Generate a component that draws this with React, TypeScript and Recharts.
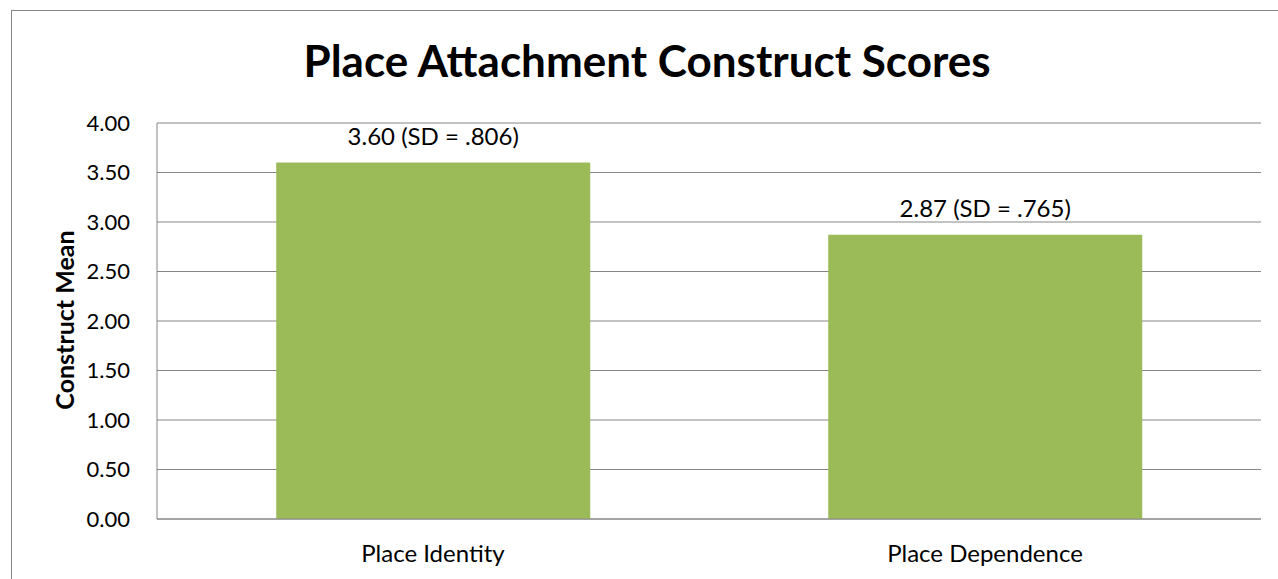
import React from 'react';
import { BarChart, Bar, XAxis, YAxis, CartesianGrid, LabelList } from 'recharts';

const categories = ['Place Identity', 'Place Dependence'];
const means = [3.6, 2.87];
const sds = ['.806', '.765'];
const yTicks = [0, 0.5, 1, 1.5, 2, 2.5, 3, 3.5, 4];

const data = categories.map((name, i) => ({ name, mean: means[i], sd: sds[i] }));

const FONT = 'Lato, "Open Sans", sans-serif';
const GRID = '#868686';

const BarLabel = (props: any) => {
  const { x, y, width, index } = props;
  return (
    <text
      x={x + width / 2}
      y={y - 18}
      textAnchor="middle"
      fontFamily={FONT}
      fontSize={24}
      fill="#000"
    >
      {`${means[index].toFixed(2)} (SD = ${sds[index]})`}
    </text>
  );
};

export default function App() {
  return (
    <div
      style={{
        position: 'fixed',
        left: 0,
        top: 0,
        width: 1278,
        height: 579,
        background: '#fff',
        overflow: 'hidden',
        fontFamily: FONT,
      }}
    >
      {/* chart area border (only left and top visible) */}
      <div
        style={{
          position: 'absolute',
          left: 11,
          top: 10,
          width: 1300,
          height: 600,
          borderLeft: `1px solid ${GRID}`,
          borderTop: `1px solid ${GRID}`,
        }}
      />
      <div
        style={{
          position: 'absolute',
          left: 647,
          top: 60,
          transform: 'translate(-50%, -50%)',
          fontSize: 44,
          fontWeight: 700,
          whiteSpace: 'nowrap',
          color: '#000',
        }}
      >
        Place Attachment Construct Scores
      </div>
      <div
        style={{
          position: 'absolute',
          left: 64,
          top: 320,
          transform: 'translate(-50%, -50%) rotate(-90deg)',
          fontSize: 25,
          fontWeight: 700,
          whiteSpace: 'nowrap',
          color: '#000',
        }}
      >
        Construct Mean
      </div>
      <div style={{ position: 'absolute', left: 0, top: 0 }}>
        <BarChart
          width={1278}
          height={579}
          data={data}
          margin={{ top: 123, right: 17, left: 97, bottom: 0 }}
          barCategoryGap="21.6%"
        >
          <CartesianGrid vertical={false} stroke={GRID} />
          <XAxis
            dataKey="name"
            height={60}
            axisLine={{ stroke: GRID }}
            tickLine={false}
            tickSize={0}
            tickMargin={26}
            tick={{ fill: '#000', fontSize: 24, fontFamily: FONT }}
          />
          <YAxis
            width={60}
            domain={[0, 4]}
            ticks={yTicks}
            interval={0}
            tickFormatter={(v: number) => v.toFixed(2)}
            axisLine={{ stroke: GRID }}
            tickLine={false}
            tickSize={0}
            tickMargin={27}
            tick={{ fill: '#000', fontSize: 22, fontFamily: FONT }}
          />
          <Bar dataKey="mean" fill="#9BBB59" isAnimationActive={false}>
            <LabelList dataKey="mean" content={<BarLabel />} />
          </Bar>
        </BarChart>
      </div>
    </div>
  );
}
